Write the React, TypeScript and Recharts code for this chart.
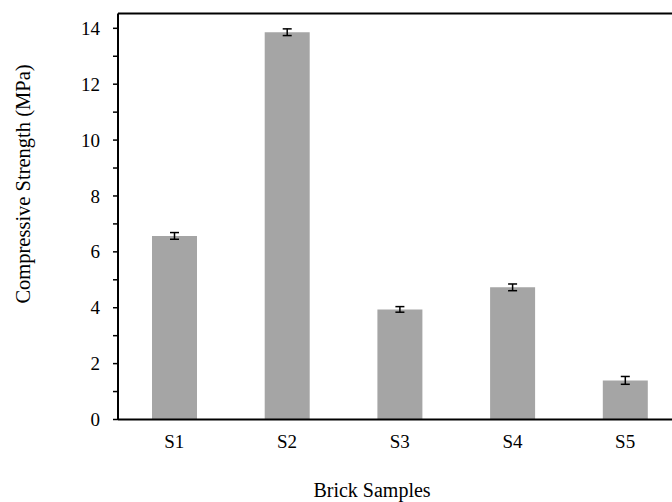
import { Bar, BarChart, ErrorBar, Label, ReferenceLine, XAxis, YAxis } from "recharts";

const samples = ["S1", "S2", "S3", "S4", "S5"];
const strength = [6.57, 13.86, 3.94, 4.73, 1.4];
const strengthErr = [0.12, 0.12, 0.1, 0.12, 0.14];
const yTicks = [0, 1, 2, 3, 4, 5, 6, 7, 8, 9, 10, 11, 12, 13, 14];
const edgeTicks = [0, 1, 2, 3, 4, 5];
const yMax = 14.53;

const data = samples.map((s, i) => ({ name: s, value: strength[i], err: strengthErr[i] }));

const font = "Liberation Serif, Times New Roman, serif";

function YTick(props: any) {
  const { x, y, payload } = props;
  if (payload.value % 2 !== 0) return <g />;
  return (
    <text x={x} y={y} dy="0.35em" textAnchor="end" style={{ fontFamily: font, fontSize: 19 }} fill="#000">
      {payload.value}
    </text>
  );
}

export default function App() {
  return (
    <div style={{ position: "fixed", left: 0, top: 0, width: 672, height: 502, overflow: "hidden", background: "#fff" }}>
      <BarChart
        width={690}
        height={502}
        data={data}
        margin={{ top: 13.5, right: 8.5, bottom: 0, left: 0 }}
      >
        <XAxis
          xAxisId="edge"
          type="number"
          domain={[0, 5]}
          ticks={edgeTicks}
          height={0}
          tick={false}
          tickSize={5}
          tickLine={{ stroke: "#000", strokeWidth: 1.5 }}
          axisLine={false}
        />
        <XAxis
          xAxisId="cat"
          dataKey="name"
          height={82.5}
          tickLine={false}
          tickSize={0}
          tickMargin={15}
          axisLine={{ stroke: "#000", strokeWidth: 2 }}
          tick={{ fontFamily: font, fontSize: 19, fill: "#000" }}
        >
          <Label
            content={() => (
              <text x={372} y={497} textAnchor="middle" style={{ fontFamily: font, fontSize: 20 }} fill="#000">
                Brick Samples
              </text>
            )}
          />
        </XAxis>
        <YAxis
          width={118}
          domain={[0, yMax]}
          ticks={yTicks}
          interval={0}
          tickSize={5}
          tickMargin={13}
          tickLine={{ stroke: "#000", strokeWidth: 1.5 }}
          axisLine={{ stroke: "#000", strokeWidth: 2 }}
          tick={<YTick />}
        >
          <Label
            content={() => (
              <text
                x={23}
                y={184}
                transform="rotate(-90 23 184)"
                textAnchor="middle"
                dominantBaseline="central"
                style={{ fontFamily: font, fontSize: 20.5 }}
                fill="#000"
              >
                Compressive Strength (MPa)
              </text>
            )}
          />
        </YAxis>
        <ReferenceLine y={yMax} xAxisId="cat" stroke="#000" strokeWidth={2} />
        <Bar dataKey="value" xAxisId="cat" fill="#a5a5a5" barSize={45} isAnimationActive={false}>
          <ErrorBar dataKey="err" width={4.5} stroke="#000" strokeWidth={1.5} />
        </Bar>
      </BarChart>
    </div>
  );
}
